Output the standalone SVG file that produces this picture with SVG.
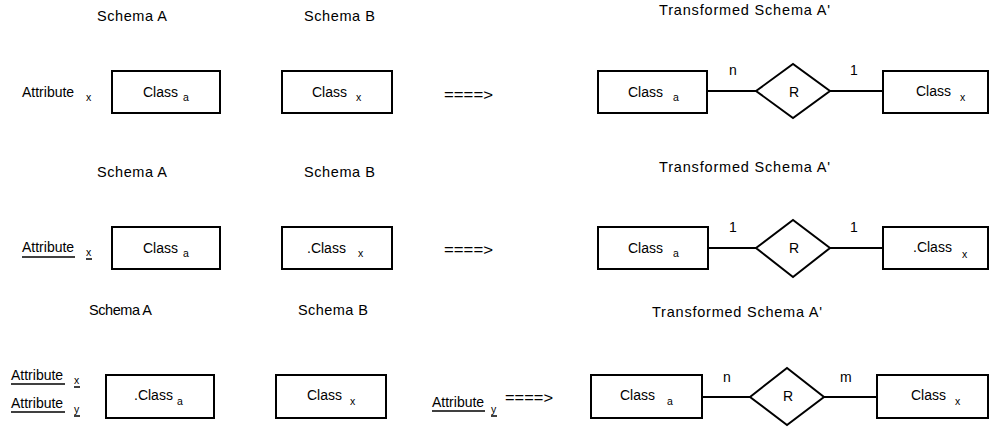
<svg xmlns="http://www.w3.org/2000/svg" width="989" height="427" viewBox="0 0 989 427">
  <style>
    text { font-family: "Liberation Sans", Arial, sans-serif; fill: #000; }
    .hd { font-size: 14.5px; }
    .lb { font-size: 14px; }
    .sub { font-size: 10.5px; }
    .box { fill: #fff; stroke: #000; stroke-width: 2; }
    .rel { fill: #fff; stroke: #000; stroke-width: 2; }
    .edge { stroke: #000; stroke-width: 2; fill: none; }
    .ul { stroke: #000; stroke-width: 1.5; }
  </style>
  <rect width="989" height="427" fill="#fff"/>

  <!-- ===== Row 1: Attribute_x vs Class_x, n:1 ===== -->
  <g id="row1-headers">
    <text class="hd" x="97" y="21" textLength="70" lengthAdjust="spacing">Schema A</text>
    <text class="hd" x="304" y="21" textLength="71" lengthAdjust="spacing">Schema B</text>
    <text class="hd" x="659" y="15" textLength="171" lengthAdjust="spacing">Transformed Schema A'</text>
  </g>
  <g id="row1-attr-x">
    <text class="lb" x="22" y="97">Attribute</text>
    <text class="sub" x="86" y="101">x</text>
  </g>
  <g id="row1-class-a">
    <rect class="box" x="112" y="71" width="108" height="42"/>
    <text class="lb" x="143" y="97">Class</text>
    <text class="sub" x="183" y="101">a</text>
  </g>
  <g id="row1-class-x">
    <rect class="box" x="282" y="71" width="110" height="42"/>
    <text class="lb" x="312" y="97">Class</text>
    <text class="sub" x="356" y="101">x</text>
  </g>
  <g id="row1-arrow">
    <text class="lb" x="444" y="100" textLength="49" lengthAdjust="spacingAndGlyphs">====&gt;</text>
  </g>
  <g id="row1-edges">
    <line class="edge" x1="707" y1="91" x2="756" y2="91"/>
    <line class="edge" x1="830" y1="91" x2="883" y2="91"/>
    <text class="lb" x="729" y="75">n</text>
    <text class="lb" x="850" y="75">1</text>
  </g>
  <g id="row1-t-class-a">
    <rect class="box" x="598" y="71" width="109" height="42"/>
    <text class="lb" x="628" y="97">Class</text>
    <text class="sub" x="673" y="101">a</text>
  </g>
  <g id="row1-t-rel">
    <polygon class="rel" points="756,91 793,64 830,91 793,118"/>
    <text class="lb" x="794" y="97" text-anchor="middle">R</text>
  </g>
  <g id="row1-t-class-x">
    <rect class="box" x="883" y="71" width="105" height="42"/>
    <text class="lb" x="916" y="96">Class</text>
    <text class="sub" x="960" y="101">x</text>
  </g>

  <!-- ===== Row 2: key Attribute_x vs .Class_x, 1:1 ===== -->
  <g id="row2-headers">
    <text class="hd" x="97" y="177" textLength="70" lengthAdjust="spacing">Schema A</text>
    <text class="hd" x="304" y="177" textLength="71" lengthAdjust="spacing">Schema B</text>
    <text class="hd" x="659" y="172" textLength="171" lengthAdjust="spacing">Transformed Schema A'</text>
  </g>
  <g id="row2-attr-x">
    <text class="lb" x="22" y="252">Attribute</text>
    <line class="ul" x1="22" y1="257" x2="75" y2="257"/>
    <text class="sub" x="86" y="256">x</text>
    <line class="ul" x1="86" y1="259" x2="92" y2="259"/>
  </g>
  <g id="row2-class-a">
    <rect class="box" x="112" y="227" width="108" height="42"/>
    <text class="lb" x="143" y="253">Class</text>
    <text class="sub" x="183" y="257">a</text>
  </g>
  <g id="row2-class-x">
    <rect class="box" x="282" y="227" width="110" height="42"/>
    <text class="lb" x="307" y="253">.Class</text>
    <text class="sub" x="358" y="257">x</text>
  </g>
  <g id="row2-arrow">
    <text class="lb" x="444" y="255" textLength="49" lengthAdjust="spacingAndGlyphs">====&gt;</text>
  </g>
  <g id="row2-edges">
    <line class="edge" x1="708" y1="248" x2="756" y2="248"/>
    <line class="edge" x1="830" y1="248" x2="883" y2="248"/>
    <text class="lb" x="729" y="232">1</text>
    <text class="lb" x="850" y="232">1</text>
  </g>
  <g id="row2-t-class-a">
    <rect class="box" x="598" y="227" width="110" height="42"/>
    <text class="lb" x="628" y="253">Class</text>
    <text class="sub" x="673" y="257">a</text>
  </g>
  <g id="row2-t-rel">
    <polygon class="rel" points="756,248 793,220 830,248 793,277"/>
    <text class="lb" x="794" y="253" text-anchor="middle">R</text>
  </g>
  <g id="row2-t-class-x">
    <rect class="box" x="883" y="227" width="105" height="42"/>
    <text class="lb" x="913" y="252">.Class</text>
    <text class="sub" x="962" y="258">x</text>
  </g>

  <!-- ===== Row 3: composite keys, n:m ===== -->
  <g id="row3-headers">
    <text class="hd" x="89" y="315" textLength="63" lengthAdjust="spacing">Schema A</text>
    <text class="hd" x="298" y="315" textLength="70" lengthAdjust="spacing">Schema B</text>
    <text class="hd" x="652" y="317" textLength="170" lengthAdjust="spacing">Transformed Schema A'</text>
  </g>
  <g id="row3-attr-x">
    <text class="lb" x="11" y="380">Attribute</text>
    <line class="ul" x1="11" y1="384" x2="65" y2="384"/>
    <text class="sub" x="74" y="384">x</text>
    <line class="ul" x1="74" y1="387" x2="80" y2="387"/>
  </g>
  <g id="row3-attr-y">
    <text class="lb" x="11" y="408">Attribute</text>
    <line class="ul" x1="11" y1="412" x2="65" y2="412"/>
    <text class="sub" x="74" y="413">y</text>
    <line class="ul" x1="74" y1="416" x2="80" y2="416"/>
  </g>
  <g id="row3-class-a">
    <rect class="box" x="106" y="375" width="108" height="43"/>
    <text class="lb" x="134" y="400">.Class</text>
    <text class="sub" x="177" y="405">a</text>
  </g>
  <g id="row3-class-x">
    <rect class="box" x="276" y="375" width="110" height="43"/>
    <text class="lb" x="307" y="400">Class</text>
    <text class="sub" x="350" y="405">x</text>
  </g>
  <g id="row3-attr-y2">
    <text class="lb" x="432" y="407">Attribute</text>
    <line class="ul" x1="432" y1="411" x2="485" y2="411"/>
    <text class="sub" x="491" y="413">y</text>
    <line class="ul" x1="491" y1="416" x2="497" y2="416"/>
  </g>
  <g id="row3-arrow">
    <text class="lb" x="505" y="403" textLength="48" lengthAdjust="spacingAndGlyphs">====&gt;</text>
  </g>
  <g id="row3-edges">
    <line class="edge" x1="702" y1="397" x2="750" y2="397"/>
    <line class="edge" x1="824" y1="397" x2="877" y2="397"/>
    <text class="lb" x="723" y="382">n</text>
    <text class="lb" x="840" y="382">m</text>
  </g>
  <g id="row3-t-class-a">
    <rect class="box" x="591" y="375" width="111" height="43"/>
    <text class="lb" x="620" y="400">Class</text>
    <text class="sub" x="667" y="405">a</text>
  </g>
  <g id="row3-t-rel">
    <polygon class="rel" points="750,397 787,368 824,397 787,425"/>
    <text class="lb" x="788" y="401" text-anchor="middle">R</text>
  </g>
  <g id="row3-t-class-x">
    <rect class="box" x="877" y="375" width="111" height="43"/>
    <text class="lb" x="911" y="400">Class</text>
    <text class="sub" x="955" y="405">x</text>
  </g>
</svg>
